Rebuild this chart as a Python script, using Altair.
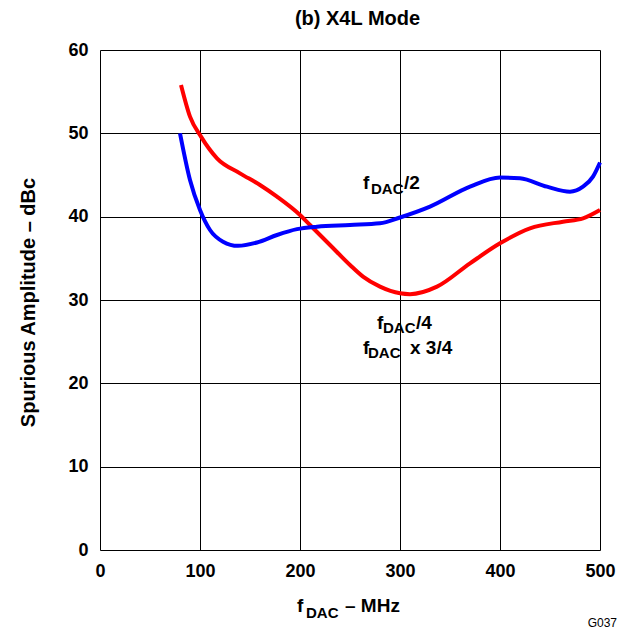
import altair as alt
import pandas as pd

# Red curve: fDAC/4 and fDAC x 3/4
red_x = [81, 90, 101, 117, 140, 160, 177, 200, 210, 230, 250, 263, 280, 300, 310, 337, 370, 400, 430, 463, 483, 500]
red_y = [55.8, 52.0, 49.6, 47.0, 45.2, 43.8, 42.4, 40.2, 39.0, 36.6, 34.2, 32.8, 31.6, 30.8, 30.7, 31.6, 34.4, 36.8, 38.6, 39.4, 39.8, 40.8]

# Blue curve: fDAC/2
blue_x = [80, 90, 100, 110, 123, 138, 157, 177, 197, 217, 250, 280, 300, 330, 370, 400, 420, 447, 470, 483, 493, 500]
blue_y = [50.0, 44.4, 40.8, 38.4, 37.0, 36.5, 36.9, 37.8, 38.5, 38.8, 39.0, 39.2, 39.9, 41.2, 43.6, 44.7, 44.6, 43.6, 43.0, 43.6, 44.8, 46.5]

x_ticks = [0, 100, 200, 300, 400, 500]
y_ticks = [0, 10, 20, 30, 40, 50, 60]

# Annotation pieces (text, MHz, dBc, size)
ann_text = ["f", "DAC", "/2", "f", "DAC", "/4", "f", "DAC", "x 3/4"]
ann_x = [263, 271, 304, 277, 283, 316, 263, 268, 310]
ann_y = [43.32, 42.78, 43.32, 26.52, 26.04, 26.52, 23.52, 23.1, 23.52]
ann_size = [19, 15, 19, 19, 15, 19, 19, 15, 19]

FONT = "Liberation Sans"

df = pd.DataFrame(
    {"x": red_x + blue_x,
     "y": red_y + blue_y,
     "s": ["red"] * len(red_x) + ["blue"] * len(blue_x)}
)

xs = alt.Scale(domain=[0, 500], nice=False)
ys = alt.Scale(domain=[0, 60], nice=False)

lines = alt.Chart(df).mark_line(strokeWidth=4, interpolate="monotone").encode(
    x=alt.X("x:Q", scale=xs, axis=alt.Axis(
        values=x_ticks, title=None, grid=True, gridColor="black", gridWidth=1,
        gridOpacity=1, ticks=False, domain=False, labelFont=FONT, labelFontSize=18,
        labelFontWeight="bold", labelColor="black", labelPadding=12, labelFlush=False)),
    y=alt.Y("y:Q", scale=ys, axis=alt.Axis(
        values=y_ticks, title="Spurious Amplitude – dBc", grid=True, gridColor="black",
        gridWidth=1, gridOpacity=1, ticks=False, domain=False, labelFont=FONT,
        labelFontSize=18, labelFontWeight="bold", labelColor="black", labelPadding=12,
        labelFlush=False,
        titleFont=FONT, titleFontSize=20, titleFontWeight="bold", titleColor="black",
        titleX=-72, titleY=252, titleAngle=-90, titleAlign="center", titleBaseline="middle")),
    color=alt.Color("s:N", scale=alt.Scale(domain=["red", "blue"], range=["#ff0000", "#0000ff"]), legend=None),
    detail="s:N",
)

ann_df = pd.DataFrame({"t": ann_text, "x": ann_x, "y": ann_y, "size": ann_size})
ann = alt.Chart(ann_df).mark_text(font=FONT, fontWeight="bold", align="left", baseline="alphabetic", color="black").encode(
    x=alt.X("x:Q", scale=xs),
    y=alt.Y("y:Q", scale=ys),
    text="t:N",
    size=alt.Size("size:Q", scale=None, legend=None),
)

def label(t, px, py, sz, weight="bold", align="left"):
    return alt.Chart(pd.DataFrame({"t": [t]})).mark_text(
        font=FONT, fontWeight=weight, align=align, baseline="alphabetic",
        color="black", fontSize=sz).encode(
        x=alt.value(px), y=alt.value(py), text="t:N")

# chart title and x-axis title (pieces for the subscript)
extras = [
    label("(b) X4L Mode", 257.5, -25, 20, align="center"),
    label("f", 197, 561.7, 19),
    label("DAC", 206, 568, 15),
    label("– MHz", 245, 561.7, 19),
    label("G037", 517, 576.5, 12, weight="normal", align="right"),
]

chart = alt.layer(lines, ann, *extras).properties(
    width=500, height=500,
    autosize=alt.AutoSizeParams(type="none"),
    padding={"left": 92, "top": 42, "right": 20, "bottom": 80},
).configure_view(stroke="black", strokeWidth=2.5).configure(background="white")

chart.save("out.html", embed_options={"renderer": "svg", "actions": False})
